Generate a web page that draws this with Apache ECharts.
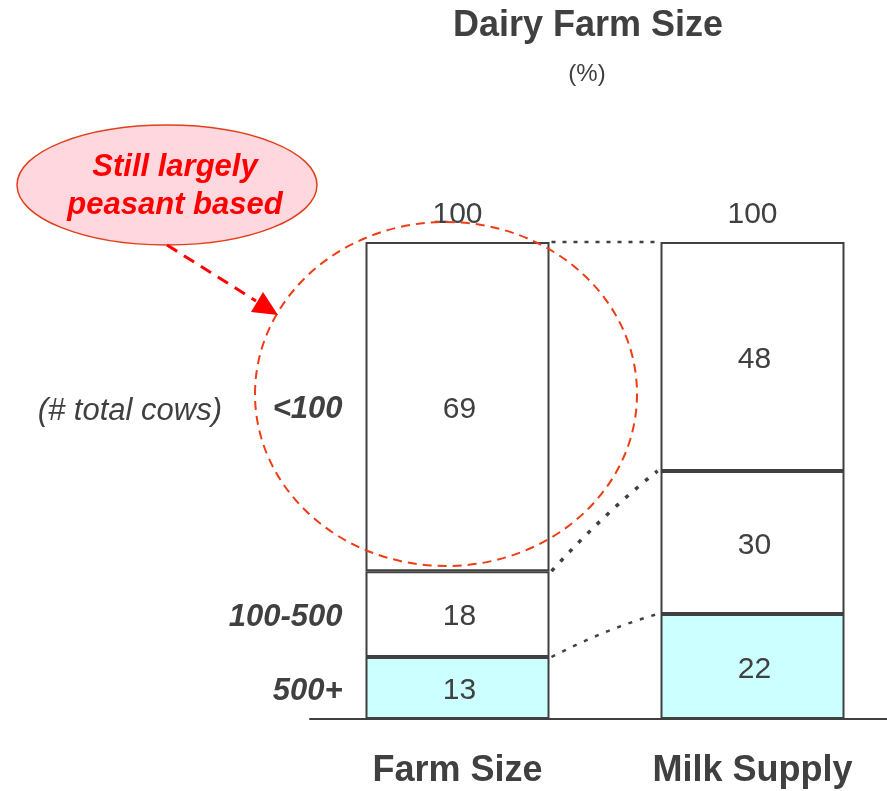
<!DOCTYPE html>
<html>
<head>
<meta charset="utf-8">
<script src="https://cdn.jsdelivr.net/npm/echarts@6/dist/echarts.min.js"></script>
<style>html,body{margin:0;padding:0;background:#fff}#c{width:887px;height:791px}</style>
</head>
<body>
<div id="c"></div>
<script>
// ---- data ----
const categories = ['Farm Size', 'Milk Supply'];
const segmentNames = ['500+', '100-500', '<100'];
const over500 = [13, 22];
const from100to500 = [18, 30];
const under100 = [69, 48];
const totals = [100, 100];
const titleText = 'Dairy Farm Size';
const subtitleText = '(%)';
const sizeAxisNote = '(# total cows)';
const calloutText = 'Still largely\npeasant based';

// ---- style ----
const FONT = '"Liberation Sans", Arial, sans-serif';
const TXT = '#404040';
const BORDER = '#404040';
const BAR_W = 184;

const chart = echarts.init(document.getElementById('c'), null, {renderer: 'canvas'});

function segSeries(name, data, color) {
  return {
    name: name, type: 'bar', stack: 'total', data: data, barWidth: BAR_W,
    itemStyle: {color: color, borderColor: BORDER, borderWidth: 2},
    label: {show: true, position: 'inside', offset: [2, 3], fontSize: 30, color: TXT, fontFamily: FONT},
    emphasis: {disabled: true}
  };
}

chart.setOption({
  animation: false,
  backgroundColor: '#fff',
  grid: {left: 310, top: 242, bottom: 72, right: -13, outerBoundsMode: 'none', containLabel: false},
  xAxis: {
    type: 'category', data: categories,
    axisLine: {lineStyle: {color: BORDER, width: 2}},
    axisTick: {show: false},
    axisLabel: {fontSize: 36, fontWeight: 'bold', color: TXT, fontFamily: FONT, margin: 34}
  },
  yAxis: {type: 'value', min: 0, max: 100, show: false, splitLine: {show: false}},
  series: [
    segSeries(segmentNames[0], over500, '#ccffff'),
    segSeries(segmentNames[1], from100to500, '#ffffff'),
    segSeries(segmentNames[2], under100, '#ffffff'),
    {
      name: 'Total', type: 'scatter', data: totals, symbolSize: 0,
      itemStyle: {color: TXT, opacity: 1},
      label: {show: true, position: 'top', distance: 12, fontSize: 30, color: TXT, fontFamily: FONT,
              formatter: p => String(p.value)},
      emphasis: {disabled: true}, z: 5
    }
  ]
});

// ---- annotations computed from axes ----
const px = (ci, v) => chart.convertToPixel({gridIndex: 0}, [ci, v]);
const g = [];

// title and subtitle
g.push({type: 'text', x: 588, y: 26, style: {text: titleText, fontSize: 36, fontWeight: 'bold', fill: TXT,
  fontFamily: FONT, align: 'center', verticalAlign: 'middle'}});
g.push({type: 'text', x: 587, y: 74, style: {text: subtitleText, fontSize: 24, fill: TXT,
  fontFamily: FONT, align: 'center', verticalAlign: 'middle'}});

// left segment labels (aligned with Farm Size segments)
const fsSegs = [over500[0], from100to500[0], under100[0]];
let base = 0;
const barLeft = px(0, 0)[0] - BAR_W / 2;
const barRightFS = px(0, 0)[0] + BAR_W / 2;
const barLeftMS = px(1, 0)[0] - BAR_W / 2;
const segMidY = [];
fsSegs.forEach((v, i) => {
  const y = px(0, base + v / 2)[1];
  segMidY.push(y);
  g.push({type: 'text', x: barLeft - 23, y: y + 3, style: {text: segmentNames[i], fontSize: 31, fontWeight: 'bold',
    fontStyle: 'italic', fill: TXT, fontFamily: FONT, align: 'right', verticalAlign: 'middle'}});
  base += v;
});
g.push({type: 'text', x: 222, y: segMidY[2] + 5, style: {text: sizeAxisNote, fontSize: 31, fontStyle: 'italic',
  fill: TXT, fontFamily: FONT, align: 'right', verticalAlign: 'middle'}});

// dotted connectors between bars
const fsCum = [over500[0], over500[0] + from100to500[0], totals[0]];
const msCum = [over500[1], over500[1] + from100to500[1], totals[1]];
const connStyles = [
  {lineWidth: 2.5, lineDash: [4, 8], bend: 6},
  {lineWidth: 3.5, lineDash: [4, 9], bend: 8},
  {lineWidth: 2.5, lineDash: [4, 7], bend: 0}
];
fsCum.forEach((v, i) => {
  const y1 = px(0, v)[1], y2 = px(1, msCum[i])[1];
  const x1 = barRightFS + 2, x2 = barLeftMS - 3;
  const cs = connStyles[i];
  g.push({type: 'bezierCurve', z: 10, shape: {x1: x1, y1: y1, x2: x2, y2: y2,
    cpx1: (x1 + x2) / 2, cpy1: (y1 + y2) / 2 - cs.bend},
    style: {stroke: '#404040', lineWidth: cs.lineWidth, lineDash: cs.lineDash, fill: null}});
});

// dashed highlight circle
g.push({type: 'ellipse', z: 20, shape: {cx: 446, cy: 394, rx: 191, ry: 172},
  style: {fill: null, stroke: '#f03c14', lineWidth: 2, lineDash: [9, 6]}});

// callout bubble
g.push({type: 'ellipse', z: 20, shape: {cx: 167, cy: 185, rx: 150, ry: 60},
  style: {fill: '#ffd7df', stroke: '#e0401c', lineWidth: 1.5}});
g.push({type: 'text', z: 21, x: 175, y: 186, style: {text: calloutText, fontSize: 31, fontWeight: 'bold',
  fontStyle: 'italic', fill: '#ff0000', fontFamily: FONT, align: 'center', verticalAlign: 'middle', lineHeight: 38}});

// dashed arrow
g.push({type: 'line', z: 20, shape: {x1: 167, y1: 245, x2: 256, y2: 301},
  style: {stroke: '#ff0000', lineWidth: 3, lineDash: [12, 8]}});
g.push({type: 'polygon', z: 20, shape: {points: [[278, 315], [251, 312], [263, 292]]},
  style: {fill: '#ff0000'}});

chart.setOption({graphic: g});
</script>
</body>
</html>
